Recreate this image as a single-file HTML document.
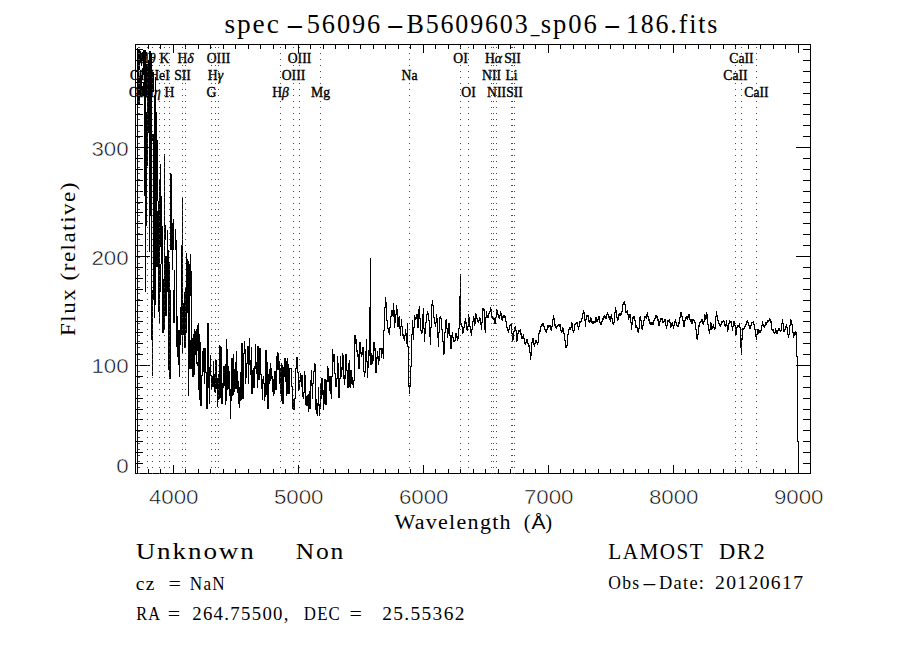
<!DOCTYPE html>
<html><head><meta charset="utf-8"><title>spec-56096-B5609603_sp06-186.fits</title>
<style>html,body{margin:0;padding:0;background:#fff;overflow:hidden}svg{display:block}text{fill:#000}</style></head>
<body>
<svg width="900" height="650" viewBox="0 0 900 650">
<rect x="0" y="0" width="900" height="650" fill="#fff"/>
<path d="M200.5 342V406M201.5 375V406M202.5 351V376M203.5 348V372M204.5 348V384M205.5 348V373M206.5 372V409M207.5 323V409M208.5 323V388M209.5 367V404M210.5 355V376M211.5 375V390M212.5 376V387M213.5 361V387M214.5 374V392M215.5 359V393M216.5 360V389M217.5 378V407M218.5 374V400M219.5 345V399M220.5 346V398M221.5 347V404M222.5 383V404M223.5 366V388M224.5 366V386M225.5 364V405M226.5 339V401M227.5 349V390M228.5 366V389M229.5 371V396M230.5 389V419M231.5 358V401M232.5 358V396M233.5 354V395M234.5 369V392M235.5 362V389M236.5 351V389M237.5 371V393M238.5 381V404M239.5 387V408M240.5 372V401M241.5 343V400M242.5 343V399M243.5 353V399M244.5 341V354M245.5 349V384M246.5 363V378M247.5 346V364M248.5 346V384M249.5 338V365M250.5 360V375M251.5 347V394M252.5 370V394M253.5 368V388M254.5 366V388M255.5 344V369M256.5 362V374M257.5 346V388M258.5 346V380M259.5 348V380M260.5 348V375M261.5 374V389M262.5 379V400M263.5 376V384M264.5 383V401M265.5 350V397M266.5 350V395M267.5 362V409M268.5 374V409M269.5 369V384M270.5 363V381M271.5 368V379M272.5 376V392M273.5 379V396M274.5 371V394M275.5 371V390M276.5 356V390M277.5 352V370M278.5 353V370M279.5 361V384M280.5 368V394M281.5 363V401M282.5 365V404M283.5 367V404M284.5 358V377M285.5 358V382M286.5 361V396M287.5 358V394M288.5 364V394M289.5 368V394M290.5 368V369M291.5 368V387M292.5 386V409M293.5 399V410M294.5 398V410M295.5 368V399M296.5 357V369M297.5 357V373M298.5 372V391M299.5 380V390M300.5 373V382M301.5 375V387M302.5 375V397M303.5 392V399M304.5 371V393M305.5 375V405M306.5 396V406M307.5 395V406M308.5 394V412M309.5 391V409M310.5 380V409M311.5 370V386M312.5 383V399M313.5 371V384M314.5 363V372M315.5 364V410M316.5 399V414M317.5 403V416M318.5 387V406M319.5 404V416M320.5 384V409M321.5 378V399M322.5 378V395M323.5 390V410M324.5 379V404M325.5 379V405M326.5 380V405M327.5 366V382M328.5 368V382M329.5 376V391M330.5 376V394M331.5 376V399M332.5 349V377M333.5 354V362M334.5 354V374M335.5 373V387M336.5 378V387M337.5 356V379M338.5 363V398M339.5 378V398M340.5 356V379M341.5 367V377M342.5 353V370M343.5 355V379M344.5 375V385M345.5 354V379M346.5 354V371M347.5 370V388M348.5 363V388M349.5 360V387M350.5 370V388M351.5 370V384M352.5 377V385M353.5 380V388M354.5 335V381M355.5 335V344M356.5 339V352M357.5 350V357M358.5 354V369M359.5 342V369M360.5 342V354M361.5 352V357M362.5 347V355M363.5 347V372M364.5 371V377M365.5 351V373M366.5 339V362M367.5 361V378M368.5 350V368M369.5 307V356M370.5 258V365M371.5 353V365M372.5 355V364M373.5 342V361M374.5 342V351M375.5 348V373M376.5 357V373M377.5 351V359M378.5 356V365M379.5 348V361M380.5 348V350M381.5 348V358M382.5 348V354M383.5 330V359M384.5 307V331M385.5 297V308M386.5 302V321M387.5 320V329M388.5 328V333M389.5 327V335M390.5 316V328M391.5 310V317M392.5 310V316M393.5 303V317M394.5 310V328M395.5 314V323M396.5 305V315M397.5 309V327M398.5 317V327M399.5 316V329M400.5 326V336M401.5 319V327M402.5 326V336M403.5 334V339M404.5 335V341M405.5 329V336M406.5 333V344M407.5 323V347M408.5 346V387M409.5 385V394M410.5 366V387M411.5 334V367M412.5 320V335M413.5 327V340M414.5 315V328M415.5 317V320M416.5 314V319M417.5 314V328M418.5 309V328M419.5 306V319M420.5 318V331M421.5 330V334M422.5 314V333M423.5 308V329M424.5 328V342M425.5 322V334M426.5 314V323M427.5 311V315M428.5 313V321M429.5 320V337M430.5 327V345M431.5 304V328M432.5 300V306M433.5 305V318M434.5 317V324M435.5 322V327M436.5 314V323M437.5 318V338M438.5 332V347M439.5 317V333M440.5 316V319M441.5 318V330M442.5 329V342M443.5 341V355M444.5 332V354M445.5 320V333M446.5 319V329M447.5 328V338M448.5 323V334M449.5 323V336M450.5 335V349M451.5 335V349M452.5 332V338M453.5 337V342M454.5 340V342M455.5 333V341M456.5 333V338M457.5 336V341M458.5 328V339M459.5 296V329M460.5 274V325M461.5 323V327M462.5 326V334M463.5 327V333M464.5 321V328M465.5 318V324M466.5 322V330M467.5 326V331M468.5 314V327M469.5 317V327M470.5 326V333M471.5 329V336M472.5 321V330M473.5 316V322M474.5 318V326M475.5 313V324M476.5 314V319M477.5 318V322M478.5 320V323M479.5 317V321M480.5 318V325M481.5 322V330M482.5 308V323M483.5 308V311M484.5 309V330M485.5 317V333M486.5 311V318M487.5 315V318M488.5 313V318M489.5 311V314M490.5 307V312M491.5 309V317M492.5 316V319M493.5 317V320M494.5 318V324M495.5 317V324M496.5 309V318M497.5 310V315M498.5 314V318M499.5 315V319M500.5 311V316M501.5 313V320M502.5 316V321M503.5 315V318M504.5 315V318M505.5 316V322M506.5 321V328M507.5 327V331M508.5 329V333M509.5 325V330M510.5 324V326M511.5 324V334M512.5 333V341M513.5 331V340M514.5 327V332M515.5 326V331M516.5 330V342M517.5 333V341M518.5 330V334M519.5 330V332M520.5 329V335M521.5 333V339M522.5 336V339M523.5 334V339M524.5 338V344M525.5 342V345M526.5 339V343M527.5 339V344M528.5 343V347M529.5 345V353M530.5 352V360M531.5 342V356M532.5 338V343M533.5 338V345M534.5 343V347M535.5 340V344M536.5 340V343M537.5 342V345M538.5 333V343M539.5 330V334M540.5 326V332M541.5 324V327M542.5 323V326M543.5 323V327M544.5 326V330M545.5 329V332M546.5 329V333M547.5 325V330M548.5 325V328M549.5 325V327M550.5 325V330M551.5 326V331M552.5 319V327M553.5 315V320M554.5 318V326M555.5 324V328M556.5 326V329M557.5 325V327M558.5 324V326M559.5 324V327M560.5 324V331M561.5 330V333M562.5 327V332M563.5 328V334M564.5 333V341M565.5 340V348M566.5 345V348M567.5 334V346M568.5 329V335M569.5 327V330M570.5 327V330M571.5 322V328M572.5 323V331M573.5 330V333M574.5 324V331M575.5 323V325M576.5 322V324M577.5 322V327M578.5 326V330M579.5 321V327M580.5 321V323M581.5 318V322M582.5 313V319M583.5 310V314M584.5 312V321M585.5 319V327M586.5 315V320M587.5 315V317M588.5 315V322M589.5 320V323M590.5 317V322M591.5 318V323M592.5 321V324M593.5 321V324M594.5 321V323M595.5 317V323M596.5 317V322M597.5 319V322M598.5 316V320M599.5 316V323M600.5 322V325M601.5 321V325M602.5 318V322M603.5 316V320M604.5 315V318M605.5 316V319M606.5 314V319M607.5 312V315M608.5 314V318M609.5 316V320M610.5 316V322M611.5 314V319M612.5 318V324M613.5 322V325M614.5 312V323M615.5 307V313M616.5 310V318M617.5 317V321M618.5 314V320M619.5 313V316M620.5 313V316M621.5 311V315M622.5 304V312M623.5 302V305M624.5 301V305M625.5 304V313M626.5 311V313M627.5 310V315M628.5 314V320M629.5 314V318M630.5 314V323M631.5 322V330M632.5 317V325M633.5 316V319M634.5 316V321M635.5 320V328M636.5 325V328M637.5 327V332M638.5 328V333M639.5 317V329M640.5 316V321M641.5 320V329M642.5 325V330M643.5 320V326M644.5 316V321M645.5 316V318M646.5 314V319M647.5 312V317M648.5 316V321M649.5 319V324M650.5 322V325M651.5 322V325M652.5 322V325M653.5 320V325M654.5 318V321M655.5 315V319M656.5 315V318M657.5 316V321M658.5 319V326M659.5 321V326M660.5 318V322M661.5 318V320M662.5 318V323M663.5 321V323M664.5 319V322M665.5 319V326M666.5 325V329M667.5 320V326M668.5 320V322M669.5 319V323M670.5 322V328M671.5 323V327M672.5 322V326M673.5 325V329M674.5 321V326M675.5 319V323M676.5 322V326M677.5 325V327M678.5 322V327M679.5 317V324M680.5 312V318M681.5 312V317M682.5 316V321M683.5 320V327M684.5 320V327M685.5 317V321M686.5 316V319M687.5 316V320M688.5 314V318M689.5 314V320M690.5 319V322M691.5 319V324M692.5 319V324M693.5 319V321M694.5 320V323M695.5 322V330M696.5 329V339M697.5 334V340M698.5 325V335M699.5 322V327M700.5 321V323M701.5 319V322M702.5 319V324M703.5 321V325M704.5 314V322M705.5 315V320M706.5 312V319M707.5 314V325M708.5 324V331M709.5 329V334M710.5 322V330M711.5 323V330M712.5 326V329M713.5 324V328M714.5 327V330M715.5 316V329M716.5 311V317M717.5 315V321M718.5 320V324M719.5 323V326M720.5 324V327M721.5 321V325M722.5 321V323M723.5 320V322M724.5 321V326M725.5 324V327M726.5 320V326M727.5 325V332M728.5 323V330M729.5 320V324M730.5 321V323M731.5 321V327M732.5 326V331M733.5 321V327M734.5 321V326M735.5 325V336M736.5 327V335M737.5 325V328M738.5 325V327M739.5 323V328M740.5 327V348M741.5 338V355M742.5 328V340M743.5 328V330M744.5 326V329M745.5 324V327M746.5 321V325M747.5 320V323M748.5 322V326M749.5 325V329M750.5 325V329M751.5 322V326M752.5 322V323M753.5 321V325M754.5 324V330M755.5 329V337M756.5 334V340M757.5 329V335M758.5 329V334M759.5 330V333M760.5 330V333M761.5 325V331M762.5 321V326M763.5 324V327M764.5 325V328M765.5 322V326M766.5 322V325M767.5 320V323M768.5 320V322M769.5 318V321M770.5 319V323M771.5 321V330M772.5 329V331M773.5 329V333M774.5 332V334M775.5 328V333M776.5 330V334M777.5 330V334M778.5 328V331M779.5 328V331M780.5 330V332M781.5 323V331M782.5 319V324M783.5 323V332M784.5 329V332M785.5 326V330M786.5 324V328M787.5 327V335M788.5 334V338M789.5 325V335M790.5 319V326M791.5 320V325M792.5 324V333M793.5 332V338M794.5 332V336M795.5 331V335M796.5 332V357M797.5 356V442M798.5 441V474M137.5 48V474M138.5 49V104M139.5 50V70M139.5 76V104M140.5 51V62M140.5 70V96M141.5 58V66M141.5 75V90M142.5 52V60M142.5 68V80M142.5 86V96M143.5 50V75M143.5 82V96M144.5 50V196M145.5 50V292M146.5 52V56M146.5 64V92M146.5 112V226M147.5 64V166M148.5 60V133M149.5 51V252M150.5 51V216M151.5 53V340M152.5 70V92M152.5 134V141M152.5 290V376M153.5 72V92M153.5 134V300M154.5 95V318M155.5 77V305M156.5 112V267M157.5 140V201M157.5 211V267M158.5 201V312M159.5 179V323M160.5 164V247M160.5 264V292M161.5 196V264M162.5 226V333M163.5 279V333M164.5 154V330M165.5 225V240M165.5 256V316M166.5 256V316M167.5 230V292M168.5 250V370M169.5 262V379M170.5 173V250M170.5 290V379M171.5 174V250M172.5 223V270M173.5 219V250M173.5 290V323M174.5 270V323M175.5 229V250M176.5 240V347M177.5 316V357M178.5 330V365M179.5 330V377M180.5 307V345M181.5 245V335M182.5 197V353M183.5 303V335M184.5 292V348M185.5 287V348M186.5 253V333M187.5 259V313M188.5 261V396M189.5 264V369M190.5 254V296M190.5 340V369M191.5 271V369M192.5 338V377M193.5 334V377M194.5 329V375M195.5 331V355M196.5 329V364M197.5 325V351M197.5 362V366M198.5 323V390M199.5 334V400" stroke="#000" stroke-width="1" fill="none" shape-rendering="crispEdges"/>
<rect x="135.5" y="44.5" width="675" height="429" fill="none" stroke="#000" stroke-width="1" shape-rendering="crispEdges"/>
<path d="M135.5 474v-5M135.5 44v5M148.5 474v-5M148.5 44v5M160.5 474v-5M160.5 44v5M173.5 474v-9M173.5 44v9M185.5 474v-5M185.5 44v5M198.5 474v-5M198.5 44v5M210.5 474v-5M210.5 44v5M223.5 474v-5M223.5 44v5M235.5 474v-5M235.5 44v5M248.5 474v-5M248.5 44v5M260.5 474v-5M260.5 44v5M273.5 474v-5M273.5 44v5M285.5 474v-5M285.5 44v5M298.5 474v-9M298.5 44v9M310.5 474v-5M310.5 44v5M323.5 474v-5M323.5 44v5M335.5 474v-5M335.5 44v5M348.5 474v-5M348.5 44v5M360.5 474v-5M360.5 44v5M373.5 474v-5M373.5 44v5M385.5 474v-5M385.5 44v5M398.5 474v-5M398.5 44v5M410.5 474v-5M410.5 44v5M423.5 474v-9M423.5 44v9M435.5 474v-5M435.5 44v5M448.5 474v-5M448.5 44v5M460.5 474v-5M460.5 44v5M473.5 474v-5M473.5 44v5M485.5 474v-5M485.5 44v5M498.5 474v-5M498.5 44v5M510.5 474v-5M510.5 44v5M523.5 474v-5M523.5 44v5M535.5 474v-5M535.5 44v5M548.5 474v-9M548.5 44v9M560.5 474v-5M560.5 44v5M573.5 474v-5M573.5 44v5M585.5 474v-5M585.5 44v5M598.5 474v-5M598.5 44v5M610.5 474v-5M610.5 44v5M623.5 474v-5M623.5 44v5M635.5 474v-5M635.5 44v5M648.5 474v-5M648.5 44v5M660.5 474v-5M660.5 44v5M673.5 474v-9M673.5 44v9M685.5 474v-5M685.5 44v5M698.5 474v-5M698.5 44v5M710.5 474v-5M710.5 44v5M723.5 474v-5M723.5 44v5M735.5 474v-5M735.5 44v5M748.5 474v-5M748.5 44v5M760.5 474v-5M760.5 44v5M773.5 474v-5M773.5 44v5M785.5 474v-5M785.5 44v5M798.5 474v-9M798.5 44v9M810.5 474v-5M810.5 44v5M135 463.5h8M811 463.5h-8M135 452.5h8M811 452.5h-8M135 441.5h8M811 441.5h-8M135 430.5h8M811 430.5h-8M135 419.5h8M811 419.5h-8M135 409.5h8M811 409.5h-8M135 398.5h8M811 398.5h-8M135 387.5h8M811 387.5h-8M135 376.5h8M811 376.5h-8M135 365.5h15M811 365.5h-15M135 354.5h8M811 354.5h-8M135 343.5h8M811 343.5h-8M135 332.5h8M811 332.5h-8M135 321.5h8M811 321.5h-8M135 311.5h8M811 311.5h-8M135 300.5h8M811 300.5h-8M135 289.5h8M811 289.5h-8M135 278.5h8M811 278.5h-8M135 267.5h8M811 267.5h-8M135 256.5h15M811 256.5h-15M135 245.5h8M811 245.5h-8M135 234.5h8M811 234.5h-8M135 223.5h8M811 223.5h-8M135 212.5h8M811 212.5h-8M135 202.5h8M811 202.5h-8M135 191.5h8M811 191.5h-8M135 180.5h8M811 180.5h-8M135 169.5h8M811 169.5h-8M135 158.5h8M811 158.5h-8M135 147.5h15M811 147.5h-15M135 136.5h8M811 136.5h-8M135 125.5h8M811 125.5h-8M135 114.5h8M811 114.5h-8M135 104.5h8M811 104.5h-8M135 93.5h8M811 93.5h-8M135 82.5h8M811 82.5h-8M135 71.5h8M811 71.5h-8M135 60.5h8M811 60.5h-8M135 49.5h8M811 49.5h-8" stroke="#000" stroke-width="1" fill="none" shape-rendering="crispEdges"/>
<text y="33.2" font-size="27" font-family="Liberation Serif, serif" letter-spacing="1.9"><tspan x="224.4" textLength="56.4" lengthAdjust="spacingAndGlyphs">spec</tspan><tspan x="285.7" textLength="18.2" lengthAdjust="spacingAndGlyphs" letter-spacing="0">-</tspan><tspan x="306.8" textLength="75.2" lengthAdjust="spacingAndGlyphs">56096</tspan><tspan x="386.3" textLength="17.9" lengthAdjust="spacingAndGlyphs" letter-spacing="0">-</tspan><tspan x="406.5" textLength="123.0" lengthAdjust="spacingAndGlyphs">B5609603</tspan><tspan x="530.7" textLength="8.7" lengthAdjust="spacingAndGlyphs" letter-spacing="0">_</tspan><tspan x="540.8" textLength="57.8" lengthAdjust="spacingAndGlyphs">sp06</tspan><tspan x="603.5" textLength="17.4" lengthAdjust="spacingAndGlyphs" letter-spacing="0">-</tspan><tspan x="626" textLength="93.1" lengthAdjust="spacingAndGlyphs">186.fits</tspan></text>
<text x="148.9" y="503.7" font-size="19.5" font-family="Liberation Sans, sans-serif" text-anchor="start" textLength="49.6" lengthAdjust="spacingAndGlyphs" stroke="#fff" stroke-width="0.5">4000</text>
<text x="273.9" y="503.7" font-size="19.5" font-family="Liberation Sans, sans-serif" text-anchor="start" textLength="49.6" lengthAdjust="spacingAndGlyphs" stroke="#fff" stroke-width="0.5">5000</text>
<text x="398.9" y="503.7" font-size="19.5" font-family="Liberation Sans, sans-serif" text-anchor="start" textLength="49.6" lengthAdjust="spacingAndGlyphs" stroke="#fff" stroke-width="0.5">6000</text>
<text x="523.9" y="503.7" font-size="19.5" font-family="Liberation Sans, sans-serif" text-anchor="start" textLength="49.6" lengthAdjust="spacingAndGlyphs" stroke="#fff" stroke-width="0.5">7000</text>
<text x="648.9" y="503.7" font-size="19.5" font-family="Liberation Sans, sans-serif" text-anchor="start" textLength="49.6" lengthAdjust="spacingAndGlyphs" stroke="#fff" stroke-width="0.5">8000</text>
<text x="773.9" y="503.7" font-size="19.5" font-family="Liberation Sans, sans-serif" text-anchor="start" textLength="49.6" lengthAdjust="spacingAndGlyphs" stroke="#fff" stroke-width="0.5">9000</text>
<text x="91.39999999999999" y="155.6" font-size="19.5" font-family="Liberation Sans, sans-serif" text-anchor="start" textLength="37.2" lengthAdjust="spacingAndGlyphs" stroke="#fff" stroke-width="0.5">300</text>
<text x="91.39999999999999" y="264.6" font-size="19.5" font-family="Liberation Sans, sans-serif" text-anchor="start" textLength="37.2" lengthAdjust="spacingAndGlyphs" stroke="#fff" stroke-width="0.5">200</text>
<text x="91.39999999999999" y="373.3" font-size="19.5" font-family="Liberation Sans, sans-serif" text-anchor="start" textLength="37.2" lengthAdjust="spacingAndGlyphs" stroke="#fff" stroke-width="0.5">100</text>
<text x="116.19999999999999" y="473.4" font-size="19.5" font-family="Liberation Sans, sans-serif" text-anchor="start" textLength="12.4" lengthAdjust="spacingAndGlyphs" stroke="#fff" stroke-width="0.5">0</text>
<text y="529.3" font-size="20.5" font-family="Liberation Serif, serif"><tspan x="394.4" textLength="117.5" lengthAdjust="spacingAndGlyphs" letter-spacing="1.2">Wavelength</tspan><tspan x="518.6"> (</tspan><tspan x="531.6" font-size="19" font-family="Liberation Sans, sans-serif" textLength="14" lengthAdjust="spacingAndGlyphs">&#197;</tspan><tspan x="545.2">)</tspan></text>
<text transform="translate(74.6,336) rotate(-90)" font-size="21" font-family="Liberation Serif, serif" letter-spacing="1.4" textLength="155" lengthAdjust="spacingAndGlyphs">Flux (relative)</text>
<g transform="translate(138.5,97.0) scale(0.9,1)"><text x="0" y="0" font-size="15.2" font-family="Liberation Serif, serif" text-anchor="middle" stroke="#000" stroke-width="0.4">OII</text></g>
<g transform="translate(139.5,80.0) scale(0.9,1)"><text x="0" y="0" font-size="15.2" font-family="Liberation Serif, serif" text-anchor="middle" stroke="#000" stroke-width="0.4">OII</text></g>
<g transform="translate(147.5,63.0) scale(0.9,1)"><text x="0" y="0" font-size="15.2" font-family="Liberation Serif, serif" text-anchor="middle" stroke="#000" stroke-width="0.4">H<tspan font-style="italic">θ</tspan></text></g>
<g transform="translate(152.5,97.0) scale(0.9,1)"><text x="0" y="0" font-size="15.2" font-family="Liberation Serif, serif" text-anchor="middle" stroke="#000" stroke-width="0.4">H<tspan font-style="italic">η</tspan></text></g>
<g transform="translate(159.5,80.0) scale(0.9,1)"><text x="0" y="0" font-size="15.2" font-family="Liberation Serif, serif" text-anchor="middle" stroke="#000" stroke-width="0.4">HeI</text></g>
<g transform="translate(164.5,63.0) scale(0.9,1)"><text x="0" y="0" font-size="15.2" font-family="Liberation Serif, serif" text-anchor="middle" stroke="#000" stroke-width="0.4">K</text></g>
<g transform="translate(169.5,97.0) scale(0.9,1)"><text x="0" y="0" font-size="15.2" font-family="Liberation Serif, serif" text-anchor="middle" stroke="#000" stroke-width="0.4">H</text></g>
<g transform="translate(182.5,80.0) scale(0.9,1)"><text x="0" y="0" font-size="15.2" font-family="Liberation Serif, serif" text-anchor="middle" stroke="#000" stroke-width="0.4">SII</text></g>
<g transform="translate(185.5,63.0) scale(0.9,1)"><text x="0" y="0" font-size="15.2" font-family="Liberation Serif, serif" text-anchor="middle" stroke="#000" stroke-width="0.4">H<tspan font-style="italic">δ</tspan></text></g>
<g transform="translate(211.5,97.0) scale(0.9,1)"><text x="0" y="0" font-size="15.2" font-family="Liberation Serif, serif" text-anchor="middle" stroke="#000" stroke-width="0.4">G</text></g>
<g transform="translate(215.5,80.0) scale(0.9,1)"><text x="0" y="0" font-size="15.2" font-family="Liberation Serif, serif" text-anchor="middle" stroke="#000" stroke-width="0.4">H<tspan font-style="italic">γ</tspan></text></g>
<g transform="translate(218.5,63.0) scale(0.9,1)"><text x="0" y="0" font-size="15.2" font-family="Liberation Serif, serif" text-anchor="middle" stroke="#000" stroke-width="0.4">OIII</text></g>
<g transform="translate(280.5,97.0) scale(0.9,1)"><text x="0" y="0" font-size="15.2" font-family="Liberation Serif, serif" text-anchor="middle" stroke="#000" stroke-width="0.4">H<tspan font-style="italic">β</tspan></text></g>
<g transform="translate(293.5,80.0) scale(0.9,1)"><text x="0" y="0" font-size="15.2" font-family="Liberation Serif, serif" text-anchor="middle" stroke="#000" stroke-width="0.4">OIII</text></g>
<g transform="translate(299.5,63.0) scale(0.9,1)"><text x="0" y="0" font-size="15.2" font-family="Liberation Serif, serif" text-anchor="middle" stroke="#000" stroke-width="0.4">OIII</text></g>
<g transform="translate(320.5,97.0) scale(0.9,1)"><text x="0" y="0" font-size="15.2" font-family="Liberation Serif, serif" text-anchor="middle" stroke="#000" stroke-width="0.4">Mg</text></g>
<g transform="translate(409.5,80.0) scale(0.9,1)"><text x="0" y="0" font-size="15.2" font-family="Liberation Serif, serif" text-anchor="middle" stroke="#000" stroke-width="0.4">Na</text></g>
<g transform="translate(460.5,63.0) scale(0.9,1)"><text x="0" y="0" font-size="15.2" font-family="Liberation Serif, serif" text-anchor="middle" stroke="#000" stroke-width="0.4">OI</text></g>
<g transform="translate(468.5,97.0) scale(0.9,1)"><text x="0" y="0" font-size="15.2" font-family="Liberation Serif, serif" text-anchor="middle" stroke="#000" stroke-width="0.4">OI</text></g>
<g transform="translate(491.5,80.0) scale(0.9,1)"><text x="0" y="0" font-size="15.2" font-family="Liberation Serif, serif" text-anchor="middle" stroke="#000" stroke-width="0.4">NII</text></g>
<g transform="translate(493.5,63.0) scale(0.9,1)"><text x="0" y="0" font-size="15.2" font-family="Liberation Serif, serif" text-anchor="middle" stroke="#000" stroke-width="0.4">H<tspan font-style="italic">α</tspan></text></g>
<g transform="translate(496.5,97.0) scale(0.9,1)"><text x="0" y="0" font-size="15.2" font-family="Liberation Serif, serif" text-anchor="middle" stroke="#000" stroke-width="0.4">NII</text></g>
<g transform="translate(511.5,80.0) scale(0.9,1)"><text x="0" y="0" font-size="15.2" font-family="Liberation Serif, serif" text-anchor="middle" stroke="#000" stroke-width="0.4">Li</text></g>
<g transform="translate(512.5,63.0) scale(0.9,1)"><text x="0" y="0" font-size="15.2" font-family="Liberation Serif, serif" text-anchor="middle" stroke="#000" stroke-width="0.4">SII</text></g>
<g transform="translate(514.5,97.0) scale(0.9,1)"><text x="0" y="0" font-size="15.2" font-family="Liberation Serif, serif" text-anchor="middle" stroke="#000" stroke-width="0.4">SII</text></g>
<g transform="translate(735.5,80.0) scale(0.9,1)"><text x="0" y="0" font-size="15.2" font-family="Liberation Serif, serif" text-anchor="middle" stroke="#000" stroke-width="0.4">CaII</text></g>
<g transform="translate(741.5,63.0) scale(0.9,1)"><text x="0" y="0" font-size="15.2" font-family="Liberation Serif, serif" text-anchor="middle" stroke="#000" stroke-width="0.4">CaII</text></g>
<g transform="translate(756.5,97.0) scale(0.9,1)"><text x="0" y="0" font-size="15.2" font-family="Liberation Serif, serif" text-anchor="middle" stroke="#000" stroke-width="0.4">CaII</text></g>
<path d="M138.5 47V474M139.5 47V474M147.5 47V474M152.5 47V474M159.5 47V474M164.5 47V474M169.5 47V474M182.5 47V474M185.5 47V474M211.5 47V474M215.5 47V474M218.5 47V474M280.5 47V474M293.5 47V474M299.5 47V474M320.5 47V474M409.5 47V474M460.5 47V474M468.5 47V474M491.5 47V474M493.5 47V474M496.5 47V474M511.5 47V474M512.5 47V474M514.5 47V474M735.5 47V474M741.5 47V474M756.5 47V474" stroke="#b81c22" stroke-width="1" stroke-dasharray="1 5" fill="none" shape-rendering="crispEdges"/>
<text y="559.3" font-size="24" font-family="Liberation Serif, serif" letter-spacing="1.68"><tspan x="135.7" textLength="120" lengthAdjust="spacingAndGlyphs">Unknown</tspan> <tspan x="295.7" textLength="49.3" lengthAdjust="spacingAndGlyphs">Non</tspan></text>
<text y="590" font-size="19" font-family="Liberation Serif, serif" letter-spacing="1.33"><tspan x="135.7" textLength="20" lengthAdjust="spacingAndGlyphs">cz</tspan> <tspan x="168.6" textLength="12.4" lengthAdjust="spacingAndGlyphs" letter-spacing="0">=</tspan> <tspan x="189.8" textLength="36" lengthAdjust="spacingAndGlyphs">NaN</tspan></text>
<text y="620" font-size="18.5" font-family="Liberation Serif, serif" letter-spacing="1.30"><tspan x="136.2" textLength="24" lengthAdjust="spacingAndGlyphs">RA</tspan> <tspan x="167.8" textLength="12.4" lengthAdjust="spacingAndGlyphs" letter-spacing="0">=</tspan> <tspan x="192.2" textLength="97.6" lengthAdjust="spacingAndGlyphs">264.75500,</tspan> <tspan x="303.8" textLength="37.2" lengthAdjust="spacingAndGlyphs">DEC</tspan> <tspan x="349.5" textLength="12.4" lengthAdjust="spacingAndGlyphs" letter-spacing="0">=</tspan> <tspan x="382.2" textLength="83.6" lengthAdjust="spacingAndGlyphs">25.55362</tspan></text>
<text y="559.3" font-size="24" font-family="Liberation Serif, serif" letter-spacing="1.68"><tspan x="608.3" textLength="95.5" lengthAdjust="spacingAndGlyphs">LAMOST</tspan> <tspan x="719" textLength="47.2" lengthAdjust="spacingAndGlyphs">DR2</tspan></text>
<text y="589.4" font-size="19" font-family="Liberation Serif, serif" letter-spacing="1.3"><tspan x="608.3" textLength="31.9" lengthAdjust="spacingAndGlyphs">Obs</tspan><tspan x="641.7" textLength="15.2" lengthAdjust="spacingAndGlyphs" letter-spacing="0">-</tspan><tspan x="659" textLength="46.2" lengthAdjust="spacingAndGlyphs">Date:</tspan> <tspan x="715" textLength="89.3" lengthAdjust="spacingAndGlyphs">20120617</tspan></text>
</svg>
</body></html>
